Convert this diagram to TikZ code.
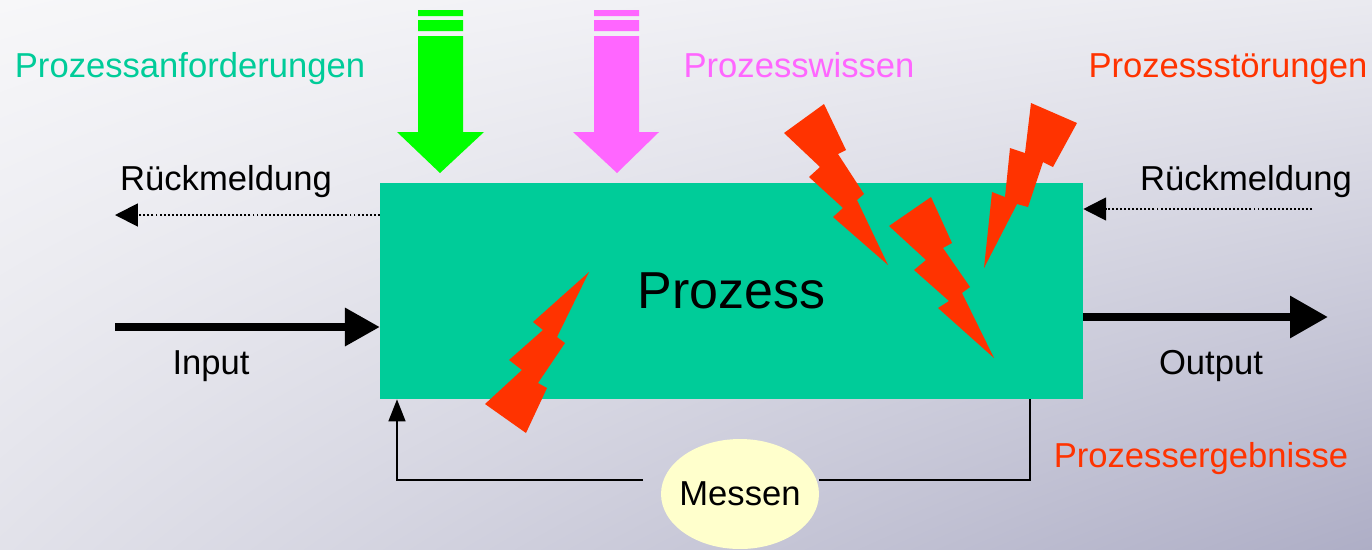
\documentclass[tikz,border=0pt]{standalone}
\usepackage{fontspec}
\setmainfont{Liberation Sans}
\usetikzlibrary{arrows.meta,shapes.geometric,shadings}

\definecolor{bgTL}{HTML}{F7F7F9}
\definecolor{bgTR}{HTML}{EAEAF0}
\definecolor{bgBL}{HTML}{E2E2EA}
\definecolor{bgBR}{HTML}{AEAEC6}
\definecolor{teal}{HTML}{00CC99}
\definecolor{wgreen}{HTML}{00FF00}
\definecolor{wmag}{HTML}{FF66FF}
\definecolor{bolt}{HTML}{FF3300}
\definecolor{cream}{HTML}{FFFFCC}

\tikzset{
  lbl/.style={font=\fontsize{19.7}{22}\selectfont, anchor=base, inner sep=0pt},
  boltshape/.style={fill=bolt, draw=none},
  dotline/.style={line width=1.1pt, dash pattern=on 1.1pt off 1.2pt,
    -{Triangle[length=13pt,width=13pt]}},
  loopline/.style={line width=1.1pt},
}

\begin{document}
\begin{tikzpicture}[x=0.02cm, y=-0.02cm]
  % background
  \shade[upper left=bgTL, upper right=bgTR, lower left=bgBL, lower right=bgBR]
    (0,0) rectangle (1372,549);
  \useasboundingbox (0,0) rectangle (1372,549);

  % process box
  \node[fill=teal, minimum width=14.06cm, minimum height=4.32cm, inner sep=0pt,
        font=\fontsize{29.6}{32}\selectfont] (prozess) at (731.5,291) {Prozess};

  % input arrows from above
  \fill[wgreen] (418,10) rectangle (463,16) (418,20) rectangle (463,31)
    (418,36) -- (463,36) -- (463,132) -- (484,132) -- (440,173) -- (397,132) -- (418,132) -- cycle;
  \fill[wmag] (594,10) rectangle (639,16) (594,20) rectangle (639,31)
    (594,36) -- (639,36) -- (639,132) -- (659,132) -- (617,173) -- (573,132) -- (594,132) -- cycle;

  % disturbances
  \path[boltshape] (784,133) -- (824,104) -- (846,150) -- (838,154) -- (864,194) -- (857,200)
    -- (888,265) -- (833,217) -- (843,208) -- (809,177) -- (820,167) -- cycle;
  \path[boltshape] (889,226) -- (931,197) -- (952,243) -- (943,248) -- (970,287) -- (962,293)
    -- (994,358) -- (938,308) -- (949,301) -- (914,270) -- (926,260) -- cycle;
  \path[boltshape] (984,268) -- (992,192) -- (1005,197) -- (1010,148) -- (1025,153) -- (1031,103)
    -- (1077,123) -- (1053,167) -- (1043,162) -- (1028,207) -- (1017,204) -- cycle;
  \path[boltshape] (589,272) -- (533,322) -- (543,330) -- (509,360) -- (522,370) -- (485,404)
    -- (526,433) -- (547,388) -- (538,383) -- (565,343) -- (557,337) -- cycle;

  % labels
  \node[lbl, text=teal] (anf) at (190,77) {Prozessanforderungen};
  \node[lbl, text=wmag] (wis) at (799,77) {Prozesswissen};
  \node[lbl, text=bolt] (stoer) at (1228,77) {Prozessstörungen};
  \node[lbl] (rueckL) at (226,190) {Rückmeldung};
  \node[lbl] (rueckR) at (1246,190) {Rückmeldung};
  \node[lbl] (input) at (211,374) {Input};
  \node[lbl] (output) at (1211,374) {Output};
  \node[lbl, text=bolt] (ergeb) at (1201,467) {Prozessergebnisse};

  % feedback arrows
  \coordinate (rlEnd) at (115,215);
  \coordinate (rrStart) at (1312,209);
  \draw[dotline] (prozess.west |- rlEnd) -- (rlEnd);
  \draw[dotline] (rrStart) -- (prozess.east |- rrStart);

  % input and output
  \coordinate (inStart) at (115,327);
  \coordinate (outEnd) at (1328,317);
  \draw[line width=4pt, -{Triangle[length=19.8pt,width=21pt]}] (inStart) -- (inStart -| prozess.west);
  \draw[line width=5pt, -{Triangle[length=21.5pt,width=22.7pt]}] (prozess.east |- outEnd) -- (outEnd);

  % measurement loop
  \node[ellipse, fill=cream, minimum width=3.16cm, minimum height=2.2cm, inner ysep=0pt,
        inner xsep=-3pt, font=\fontsize{19.7}{22}\selectfont] (messen) at (740,494) {Messen};
  \coordinate (loopR) at (1030,480);
  \coordinate (loopL) at (397,480);
  \coordinate (gapL) at (643,480);
  \draw[loopline] (loopR |- prozess.south) -- (loopR) -- (messen.east |- loopR);
  \draw[loopline, -{Triangle[length=12.5pt,width=9.6pt]}] (gapL) -- (loopL) -- (loopL |- prozess.south);
\end{tikzpicture}
\end{document}
